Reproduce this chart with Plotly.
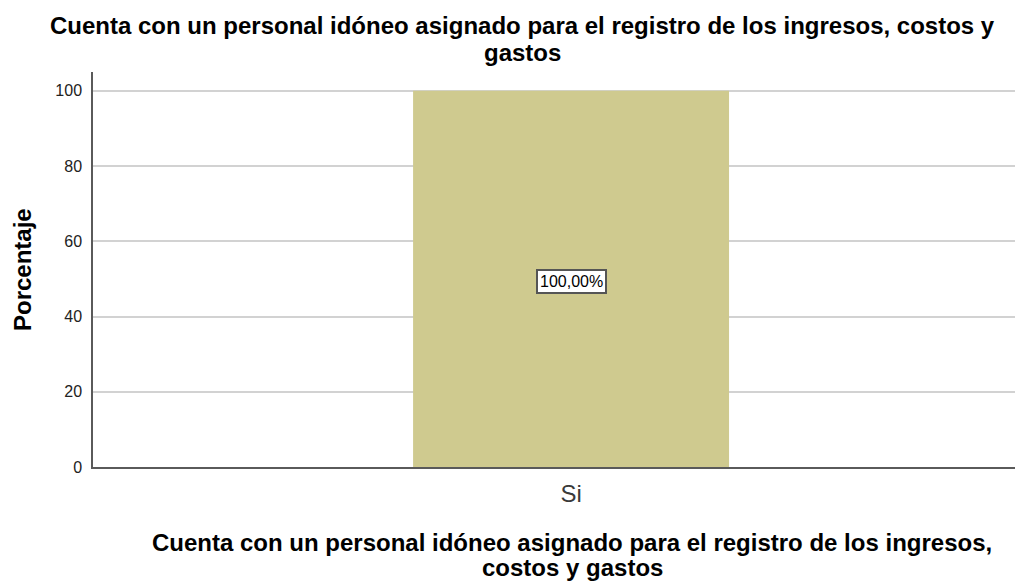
import plotly.graph_objects as go

categories = ["Si"]
values = [100.0]
labels = ["100,00%"]
yticks = [0, 20, 40, 60, 80, 100]

title_lines = ["Cuenta con un personal idóneo asignado para el registro de los ingresos, costos y", "gastos"]
xtitle_lines = ["Cuenta con un personal idóneo asignado para el registro de los ingresos,", "costos y gastos"]
ytitle = "Porcentaje"

FONT = "Liberation Sans, Arial, sans-serif"

# plot area in pixels
L, R, T, B = 93, 1015, 72, 467
W, H = 1015, 581


def px_x(px):
    return (px - L) / (R - L)


def px_y(py):
    return (B - py) / (B - T)


fig = go.Figure()
fig.add_trace(go.Bar(
    x=categories, y=values, width=1,
    marker=dict(color="#cfca8f", line=dict(width=0)),
    hoverinfo="skip",
))

for c, v, t in zip(categories, values, labels):
    fig.add_annotation(
        x=c, y=v / 2, text=t, showarrow=False, yshift=-3,
        font=dict(family=FONT, size=16, color="#000000"),
        bgcolor="#ffffff", bordercolor="#555555", borderwidth=2, borderpad=2,
    )

for line, ypix in zip(title_lines, [25, 53]):
    fig.add_annotation(
        xref="paper", yref="paper", x=px_x(522), y=px_y(ypix),
        text="<b>" + line + "</b>", showarrow=False,
        font=dict(family=FONT, size=24, color="#000000"),
        xanchor="center", yanchor="middle",
    )

for line, ypix in zip(xtitle_lines, [542, 567]):
    fig.add_annotation(
        xref="paper", yref="paper", x=px_x(572), y=px_y(ypix),
        text="<b>" + line + "</b>", showarrow=False,
        font=dict(family=FONT, size=24, color="#000000"),
        xanchor="center", yanchor="middle",
    )

fig.add_annotation(
    xref="paper", yref="paper", x=px_x(22), y=px_y(270),
    text="<b>" + ytitle + "</b>", showarrow=False, textangle=-90,
    font=dict(family=FONT, size=24, color="#000000"),
    xanchor="center", yanchor="middle",
)

fig.update_layout(
    width=W, height=H,
    margin=dict(l=L, r=W - R, t=T, b=H - B, pad=0),
    paper_bgcolor="#ffffff", plot_bgcolor="#ffffff",
    showlegend=False,
    font=dict(family=FONT, color="#000000"),
    xaxis=dict(
        type="category", range=[-1.513, 1.405],
        showgrid=False, showline=True, linecolor="#5a5a5a", linewidth=1.5,
        ticks="", tickfont=dict(family=FONT, size=24, color="#3a3a3a"),
        ticklabelstandoff=4, zeroline=False, fixedrange=True,
    ),
    yaxis=dict(
        range=[0, 105], tickvals=yticks,
        showgrid=True, gridcolor="#d2d2d2", gridwidth=1.5,
        showline=True, linecolor="#5a5a5a", linewidth=1.5,
        ticks="", tickfont=dict(family=FONT, size=16, color="#222222"),
        ticklabelstandoff=6, zeroline=False,
    ),
)

fig.write_html(
    "out.html",
    config={"displayModeBar": False},
    post_script="document.body.style.margin='0';document.body.style.padding='0';document.body.style.overflow='hidden';",
)
